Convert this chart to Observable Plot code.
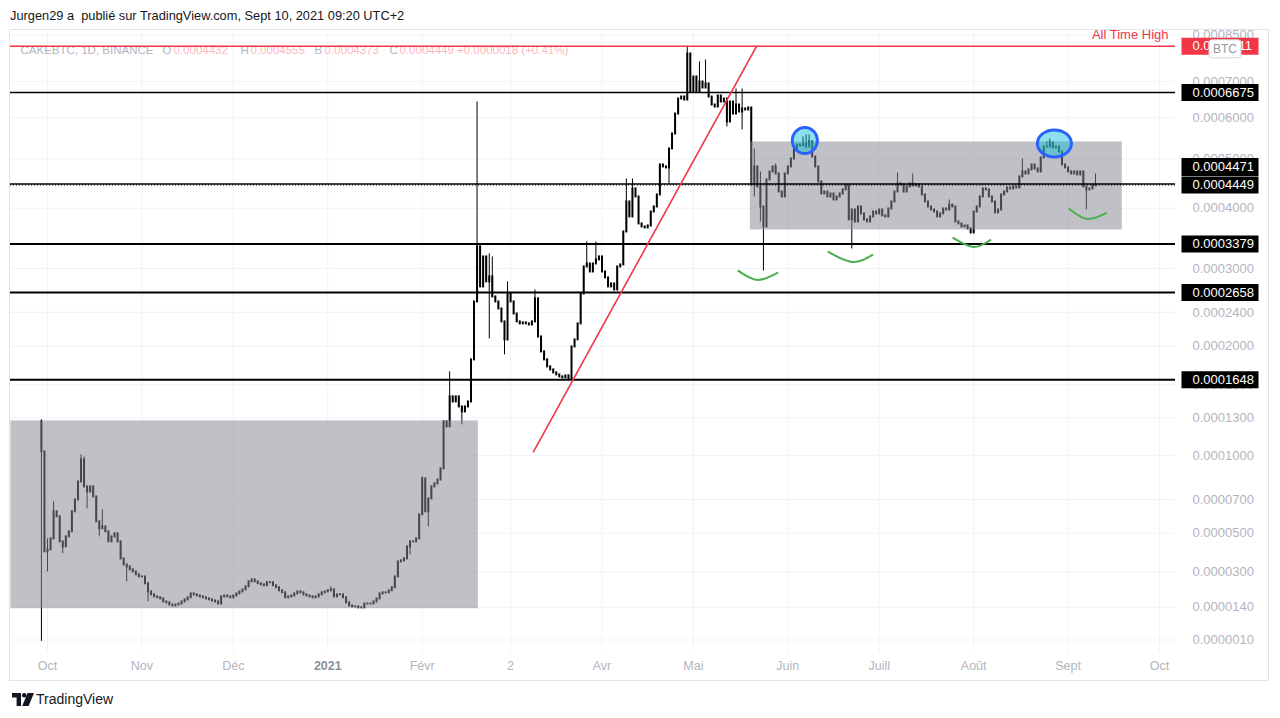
<!DOCTYPE html>
<html><head><meta charset="utf-8">
<script src="https://cdn.jsdelivr.net/npm/d3@7"></script>
<script src="https://cdn.jsdelivr.net/npm/@observablehq/plot@0.6"></script>
<style>
html,body{margin:0;padding:0;background:#fff;width:1280px;height:718px;overflow:hidden;font-family:"Liberation Sans",Arial,sans-serif;}
#hdr{height:30px;position:relative;color:#131722;font-size:12.8px;}
#hdr span{position:absolute;left:10px;top:8px;white-space:pre;}
#wrap{position:relative;width:1280px;height:652px;}
#wrap svg{display:block;}
#border{position:absolute;left:9px;top:-1px;width:1258px;height:650px;border:1px solid #e0e3eb;pointer-events:none;}
#ftr{height:36px;position:relative;}
#ftr svg{position:absolute;left:12px;top:11px;}
#ftr span{position:absolute;left:36px;top:9px;font-size:14px;color:#131722;}
</style></head><body>
<div id="hdr"><span>Jurgen29 a  publié sur TradingView.com, Sept 10, 2021 09:20 UTC+2</span></div>
<div id="wrap"><div id="border"></div></div>
<div id="ftr"><svg width="22" height="13" viewBox="0 0 22 13"><path d="M0 0h9v13H4.6V4.4H0z" fill="#131722"/><circle cx="12.2" cy="2.3" r="2.3" fill="#131722"/><path d="M15.6 0H22L16.6 13H10.2z" fill="#131722"/></svg><span>TradingView</span></div>
<script>
// ---------- data (prices in units of 1e-7 BTC) ----------
const firstDay = "2020-09-29";
const open0 = 1266;
const closes = [
1028,400,410,469,624,594,453,426,480,508,
624,697,814,968,781,748,781,716,565,525,
536,508,453,480,497,453,364,334,324,310,
300,286,276,276,244,207,194,185,181,176,
163,159,150,146,150,154,163,172,181,198,
194,189,185,181,176,172,167,163,154,185,
189,185,181,189,198,207,216,230,253,262,
253,244,239,235,249,249,235,226,212,203,
181,185,189,198,207,203,194,189,185,181,
185,194,203,207,212,216,185,194,194,181,
159,146,142,142,138,138,154,154,154,163,
176,198,203,203,212,226,276,349,354,364,
426,453,453,469,606,834,624,704,781,801,
827,904,1266,1224,1486,1440,1486,1395,1351,1395,
1440,1851,2534,3332,2736,3175,2806,2877,2600,2534,
2443,2282,2070,2640,2534,2380,2282,2258,2270,2258,
2245,2282,2574,2104,1937,1851,1778,1747,1717,1697,
1677,1667,1687,1657,1991,2070,2258,2640,3023,3068,
2949,3068,3129,3175,2949,2863,2736,2778,2694,3023,
3053,3580,4118,3842,4371,4214,3718,3666,3649,3683,
3932,4024,4253,4870,4827,4806,5228,5584,6090,6495,
6551,6467,7855,6692,7132,6692,6982,6807,6924,6551,
6330,6276,6579,6412,6495,5883,6412,6090,6330,6143,
6223,6196,6249,4451,4827,4411,4024,3666,4553,4720,
4827,4678,4311,4214,4678,4827,5001,5228,5321,5298,
5345,5274,5392,5046,4827,4512,4272,4311,4214,4272,
4156,4214,4272,4351,4431,3789,3968,3753,4024,3896,
3789,3753,3842,3932,3896,3968,3860,3842,3987,4118,
4311,4471,4451,4311,4411,4471,4431,4451,4411,4253,
4118,4024,3968,3932,3842,3896,3987,3968,4061,4024,
3753,3718,3666,3683,3632,3563,3932,4024,4214,4371,
4351,4214,4118,3914,3968,4253,4311,4391,4371,4411,
4391,4615,4720,4678,4763,4870,4784,4720,5024,5274,
5274,5368,5251,5274,5159,4870,4806,4720,4678,4720,
4657,4720,4411,4351,4371,4431,4449];
// days with visible wicks beyond the body (null = wick ends at body)
const wickDays = [0,2,4,7,13,14,15,19,20,28,35,95,121,125,127,134,138,143,144,147,148,152,153,162,179,182,192,194,206,212,216,218,225,228,230,234,236,237,241,250,251,252,266,281,286,298,322,330,331,343,346];
const wickHigh = [1283,469,685,null,1005,990,null,null,636,null,null,230,null,848,null,1727,null,6412,3365,3224,3175,null,2806,2694,3413,3413,4574,4574,null,8111,7596,7660,null,6778,6778,5228,4720,null,4892,5511,5559,5559,null,4699,4678,4156,5001,5392,5463,null,4678];
const wickLow = [5,300,null,390,null,null,642,480,null,253,163,null,384,null,536,null,1241,2534,null,2081,null,1904,null,null,null,null,null,null,4471,null,null,null,5757,null,5683,4214,3753,2964,null,null,null,null,3300,null,null,null,null,null,null,3968,null];

const yTicks = [0.00085,0.0007,0.0006,0.0005,0.0004,0.0003,0.00024,0.0002,0.00016,0.00013,0.0001,0.00007,0.00005,0.00003,0.000014,0.000001];
const xTickDates = ["2020-10-01","2020-11-01","2020-12-01","2021-01-01","2021-02-01","2021-03-02","2021-04-01","2021-05-01","2021-06-01","2021-07-01","2021-08-01","2021-09-01","2021-10-01"];
const xTickLabels = ["Oct","Nov","Déc","2021","Févr","2","Avr","Mai","Juin","Juill","Août","Sept","Oct"];

const levelPrices = [0.0006675,0.0004471,0.0003379,0.0002658,0.0001648];
const lastPrice = 0.0004449;
const athPrice = 0.0008111;

const boxStart = ["2020-09-19","2021-05-19T17:00Z"];
const boxEnd = ["2021-02-19T10:00Z","2021-09-18T19:00Z"];
const boxTop = [0.0001274,0.0005392];
const boxBottom = [0.0000134,0.0003614];

const trendDates = ["2021-03-09T12:00Z","2021-05-21T17:00Z"];
const trendPrices = [0.0001028,0.0008111];

const arcIds = [1,1,1,2,2,2,3,3,3,4,4,4];
const arcDates = ["2021-05-15T19:00Z","2021-05-22T00:00Z","2021-05-28T14:00Z",
  "2021-06-14T07:00Z","2021-06-22T05:00Z","2021-06-28T19:00Z",
  "2021-07-25T07:00Z","2021-07-31T22:00Z","2021-08-06T12:00Z",
  "2021-09-01T10:00Z","2021-09-07T07:00Z","2021-09-13T14:00Z"];
const arcPrices = [0.0002964,0.0002834,0.0002935,0.0003253,0.0003098,0.0003206,0.0003479,0.0003332,0.0003446,0.0003987,0.0003806,0.0003914];

const circleDates = ["2021-06-06T14:00Z","2021-08-27T12:00Z"];
const circlePrices = [0.0005427,0.0005357];

const legendValues = ["0.0004432","0.0004555","0.0004373","0.0004449 +0.0000018 (+0.41%)"];

// ---------- build tables ----------
const U = 1e-7;
const t0 = new Date(firstDay).getTime();
const rows = closes.map((c, i) => {
  const o = i === 0 ? open0 : closes[i - 1];
  const j = wickDays.indexOf(i);
  const hi = j >= 0 && wickHigh[j] != null ? wickHigh[j] : Math.max(o, c);
  const lo = j >= 0 && wickLow[j] != null ? wickLow[j] : Math.min(o, c);
  return {date: new Date(t0 + i * 864e5), open: o * U, close: c * U, high: hi * U, low: lo * U};
});
const boxes = boxStart.map((d, i) => ({x1: new Date(d), x2: new Date(boxEnd[i]), y1: boxTop[i], y2: boxBottom[i]}));
const trend = trendDates.map((d, i) => ({date: new Date(d), p: trendPrices[i]}));
const arcs = arcDates.map((d, i) => ({id: arcIds[i], date: new Date(d), p: arcPrices[i]}));
const circles = circleDates.map((d, i) => ({date: new Date(d), p: circlePrices[i]}));
const xt = xTickDates.map((d, i) => ({date: new Date(d), label: xTickLabels[i]}));
const fmt = v => v.toFixed(7);

// ---------- symbols ----------
function ellipse(rx, ry) { const k = 0.5523; return {draw(c) {
  c.moveTo(rx, 0); c.bezierCurveTo(rx, ry*k, rx*k, ry, 0, ry); c.bezierCurveTo(-rx*k, ry, -rx, ry*k, -rx, 0);
  c.bezierCurveTo(-rx, -ry*k, -rx*k, -ry, 0, -ry); c.bezierCurveTo(rx*k, -ry, rx, -ry*k, rx, 0); c.closePath(); }}; }
function rectSym(w, h) { return {draw(c) { c.rect(-w/2, -h/2, w, h); }}; }
function rrect(w, h, r) { return {draw(c) { const x0=-w/2,y0=-h/2,x1=w/2,y1=h/2;
  c.moveTo(x0+r,y0); c.arcTo(x1,y0,x1,y1,r); c.arcTo(x1,y1,x0,y1,r); c.arcTo(x0,y1,x0,y0,r); c.arcTo(x0,y0,x1,y0,r); c.closePath(); }}; }

const gray = "#b2b5be", red = "#f23645";
const legendPieces = [{t:"CAKEBTC, 1D, BINANCE", dx:10},{t:"O",dx:152},{t:"H",dx:230},{t:"B",dx:304},{t:"C",dx:379}];
const legendVals = legendValues.map((t, i) => ({t, dx: [163, 240, 314, 389][i]}));

const chart = Plot.plot({
  width: 1280, height: 652,
  marginLeft: 10, marginRight: 105, marginTop: 0, marginBottom: 30,
  style: {fontFamily: "Liberation Sans, Arial, sans-serif", fontSize: "12px", background: "none", overflow: "visible"},
  x: {type: "utc", domain: [new Date("2020-10-01"), new Date("2021-10-01")], range: [47, 1159], axis: null},
  y: {type: "symlog", constant: 1e-4, domain: [0.000001, 0.00085], range: [609.5, 4.5], axis: null},
  marks: [
    Plot.ruleY(yTicks, {stroke: "#f0f3fa"}),
    Plot.ruleX(xt, {x: "date", stroke: "#f0f3fa"}),
    ...legendPieces.map(p => Plot.text([p.t], {frameAnchor: "top-left", dx: p.dx, dy: 15, text: d => d, textAnchor: "start", fill: gray, fontSize: 11.5})),
    ...legendVals.map(p => Plot.text([p.t], {frameAnchor: "top-left", dx: p.dx, dy: 15, text: d => d, textAnchor: "start", fill: "#f7525f", fillOpacity: 0.45, fontSize: 11.5})),
    Plot.ruleX(rows, {x: "date", y1: "low", y2: "high", stroke: "#000", strokeWidth: 1}),
    Plot.ruleX(rows, {x: "date", y1: "open", y2: "close", stroke: "#000", strokeWidth: 2, strokeLinecap: "square"}),
    Plot.rect(boxes, {x1: "x1", x2: "x2", y1: "y1", y2: "y2", fill: "rgb(135,136,145)", fillOpacity: 0.52}),
    Plot.ruleY(levelPrices.slice(0, 2), {stroke: "#000", strokeWidth: 1.5}),
    Plot.ruleY(levelPrices.slice(2), {stroke: "#000", strokeWidth: 2}),
    Plot.ruleY([lastPrice], {stroke: "#000", strokeWidth: 1, strokeDasharray: "1,2"}),
    Plot.ruleY([athPrice], {stroke: red, strokeWidth: 1.5}),
    Plot.line(trend, {x: "date", y: "p", stroke: red, strokeWidth: 1.6}),
    Plot.line(arcs, {x: "date", y: "p", z: "id", curve: "natural", stroke: "#4caf50", strokeWidth: 2}),
    Plot.dot([circles[0]], {x: "date", y: "p", r: 10, symbol: ellipse(12.5, 13), fill: "#00bcd4", fillOpacity: 0.45, stroke: "#2962ff", strokeWidth: 3}),
    Plot.dot([circles[1]], {x: "date", y: "p", r: 10, symbol: ellipse(17, 13.5), fill: "#00bcd4", fillOpacity: 0.45, stroke: "#2962ff", strokeWidth: 3}),
    Plot.text(yTicks, {y: d => d, text: fmt, frameAnchor: "right", dx: 17, textAnchor: "start", fill: gray, fontSize: 13}),
    Plot.text(xt.filter(d => d.label !== "2021"), {x: "date", text: "label", frameAnchor: "bottom", dy: 17, fill: gray, fontSize: 12.5}),
    Plot.text(xt.filter(d => d.label === "2021"), {x: "date", text: "label", frameAnchor: "bottom", dy: 17, fill: "#8c8f98", fontWeight: "bold", fontSize: 12.5}),
    // price labels
    Plot.dot([levelPrices[0], levelPrices[2], levelPrices[3], levelPrices[4], lastPrice], {y: d => d, frameAnchor: "right", dx: 44.5, r: 5, symbol: rectSym(77, 17), fill: "#000", stroke: "none"}),
    Plot.text([levelPrices[0], levelPrices[2], levelPrices[3], levelPrices[4], lastPrice], {y: d => d, text: fmt, frameAnchor: "right", dx: 17, textAnchor: "start", fill: "#fff", fontSize: 13}),
    Plot.dot([levelPrices[1]], {y: d => d, frameAnchor: "right", dx: 44.5, dy: -17, r: 5, symbol: rectSym(77, 18), fill: "#000", stroke: "none"}),
    Plot.text([levelPrices[1]], {y: d => d, text: fmt, frameAnchor: "right", dx: 17, dy: -17, textAnchor: "start", fill: "#fff", fontSize: 13}),
    Plot.dot([athPrice], {y: d => d, frameAnchor: "right", dx: 44.5, r: 5, symbol: rectSym(77, 17), fill: red, stroke: "none"}),
    Plot.text([athPrice], {y: d => d, text: fmt, frameAnchor: "right", dx: 17, textAnchor: "start", fill: "#fff", fontSize: 13}),
    Plot.dot([athPrice], {y: d => d, frameAnchor: "right", dx: 49.5, dy: 2.5, r: 5, symbol: rrect(32, 18, 3), fill: "#fff", stroke: "#d1d4dc", strokeWidth: 1}),
    Plot.text(["BTC"], {y: () => athPrice, text: d => d, frameAnchor: "right", dx: 49.5, dy: 2.5, textAnchor: "middle", fill: "#9598a1", fontSize: 12}),
    Plot.text(["All Time High"], {y: () => athPrice, text: d => d, frameAnchor: "right", dx: -7, dy: -11, textAnchor: "end", fill: red, fontSize: 13})
  ]
});
document.getElementById("wrap").appendChild(chart);
</script>
</body></html>
